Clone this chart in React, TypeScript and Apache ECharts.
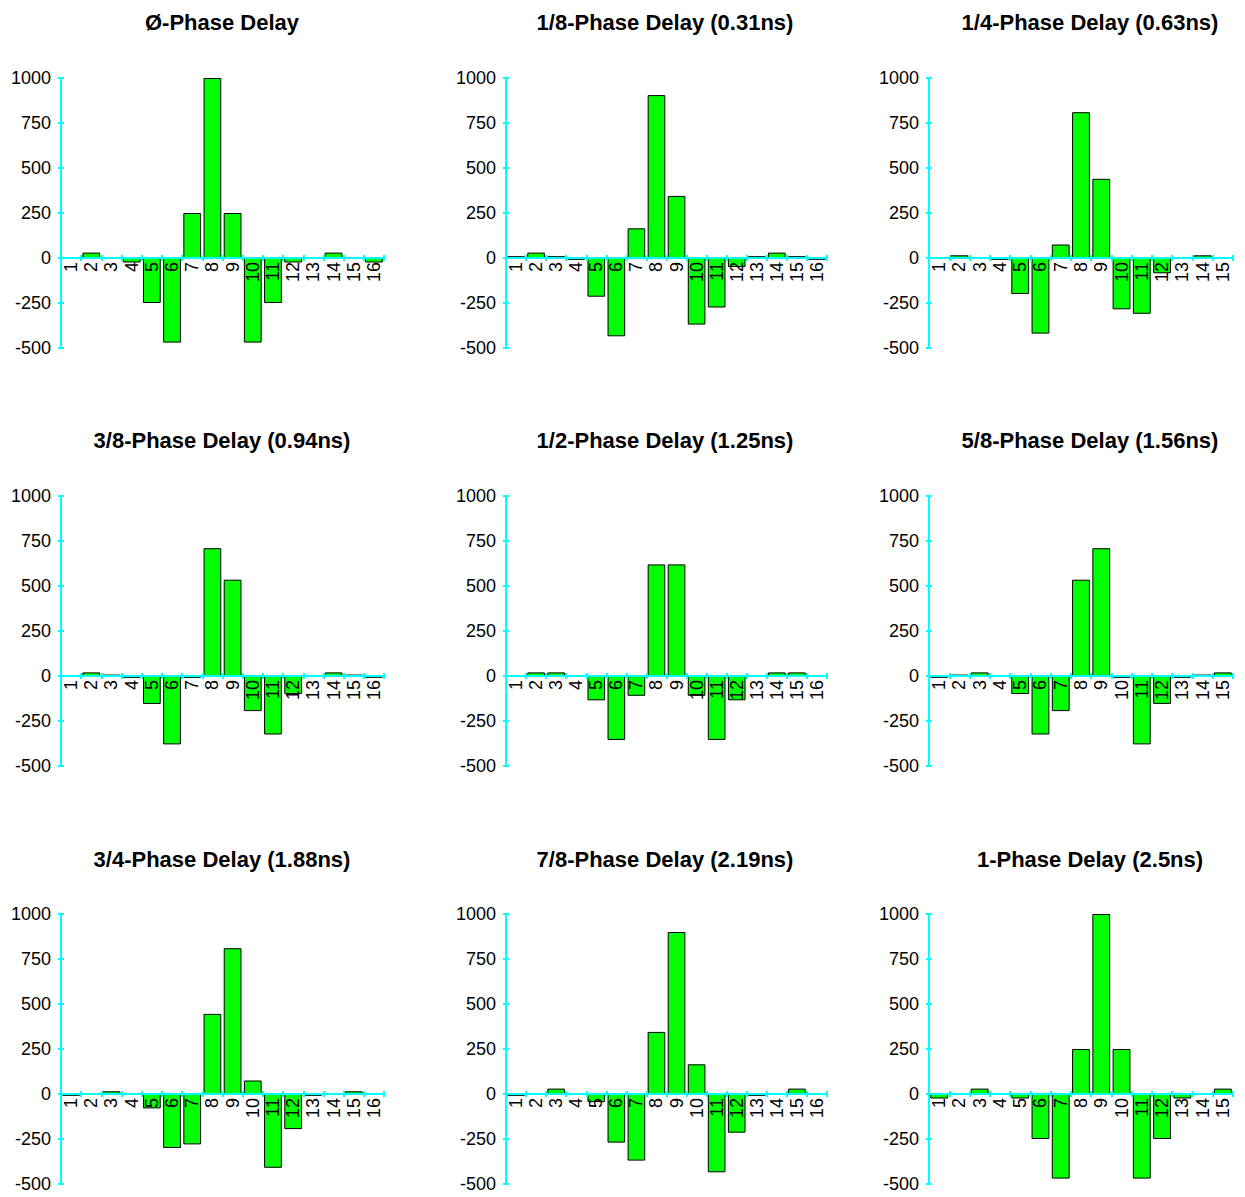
import React, { useEffect, useRef } from "react";
import * as echarts from "echarts";

const CATS_16 = ["1", "2", "3", "4", "5", "6", "7", "8", "9", "10", "11", "12", "13", "14", "15", "16"];
const CATS_15 = ["1", "2", "3", "4", "5", "6", "7", "8", "9", "10", "11", "12", "13", "14", "15"];

const Y_MIN = -500;
const Y_MAX = 1000;
const Y_STEP = 250;

const TITLES = [
  "Ø-Phase Delay",
  "1/8-Phase Delay (0.31ns)",
  "1/4-Phase Delay (0.63ns)",
  "3/8-Phase Delay (0.94ns)",
  "1/2-Phase Delay (1.25ns)",
  "5/8-Phase Delay (1.56ns)",
  "3/4-Phase Delay (1.88ns)",
  "7/8-Phase Delay (2.19ns)",
  "1-Phase Delay (2.5ns)",
];

const PHASE_0 = [0, 30, 0, -25, -250, -470, 250, 1000, 250, -470, -250, -25, 0, 30, 0, -25];
const PHASE_1_8 = [10, 30, 10, -10, -215, -435, 165, 905, 345, -370, -275, -50, 10, 30, 10, -10];
const PHASE_1_4 = [5, 15, 5, -10, -200, -420, 75, 810, 440, -285, -310, -85, 5, 15, 5];
const PHASE_3_8 = [0, 20, 8, -10, -155, -380, -10, 710, 535, -195, -325, -100, 0, 20, 8, -10];
const PHASE_1_2 = [0, 20, 20, 0, -135, -355, -110, 620, 620, -110, -355, -135, 0, 20, 20, 0];
const PHASE_5_8 = [-10, 8, 20, 0, -100, -325, -195, 535, 710, -10, -380, -155, -10, 8, 20];
const PHASE_3_4 = [-10, 5, 15, 5, -80, -300, -280, 445, 810, 75, -410, -195, -10, 5, 15, 5];
const PHASE_7_8 = [-10, 5, 30, 5, -45, -270, -370, 345, 900, 165, -435, -215, -10, 5, 30, 5];
const PHASE_1 = [-25, 0, 30, 0, -25, -250, -470, 250, 1000, 250, -470, -250, -25, 0, 30];

const SERIES = [PHASE_0, PHASE_1_8, PHASE_1_4, PHASE_3_8, PHASE_1_2, PHASE_5_8, PHASE_3_4, PHASE_7_8, PHASE_1];
const CATS = [CATS_16, CATS_16, CATS_15, CATS_16, CATS_16, CATS_15, CATS_16, CATS_16, CATS_15];

const COL_LEFT = [61, 506, 929];
const COL_WIDTH = [323, 321, 304];
const COL_TITLE_X = [222, 665, 1090];
const ROW_TOP = [78, 496, 914];
const ROW_TITLE_Y = [11, 429, 848];
const GRID_H = 270;
// distance from the bottom of each grid up to the zero line
const ZERO_OFFSET = (GRID_H * (0 - Y_MIN)) / (Y_MAX - Y_MIN);

const FONT = "'Liberation Sans', Arial, sans-serif";
const CYAN = "#00FFFF";

export default function App() {
  const ref = useRef<HTMLDivElement>(null);

  useEffect(() => {
    if (!ref.current) return;
    const chart = echarts.init(ref.current, null, { renderer: "svg" });

    const grids: any[] = [];
    const xAxes: any[] = [];
    const yAxes: any[] = [];
    const xInner: any[] = [];
    const yInner: any[] = [];
    const series: any[] = [];
    const graphics: any[] = [];

    SERIES.forEach((data, i) => {
      const r = Math.floor(i / 3);
      const c = i % 3;
      grids.push({
        left: COL_LEFT[c],
        top: ROW_TOP[r],
        width: COL_WIDTH[c],
        height: GRID_H,
        containLabel: false,
        outerBoundsMode: "none",
      });
      xAxes.push({
        type: "category",
        gridIndex: i,
        data: CATS[i],
        position: "bottom",
        offset: -ZERO_OFFSET,
        z: 10,
        axisLine: { onZero: false, lineStyle: { color: CYAN, width: 2 } },
        axisTick: { show: true, length: 3, lineStyle: { color: CYAN, width: 2 } },
        axisLabel: {
          interval: 0,
          rotate: 90,
          margin: 4,
          fontSize: 18,
          color: "#000",
          fontFamily: FONT,
        },
        splitLine: { show: false },
      });
      // second pass of ticks on the inner side so that the ticks cross the axis line
      xInner.push({
        type: "category",
        gridIndex: i,
        data: CATS[i],
        position: "bottom",
        offset: -ZERO_OFFSET,
        z: 10,
        axisLine: { show: false, onZero: false },
        axisTick: { show: true, inside: true, length: 3, lineStyle: { color: CYAN, width: 2 } },
        axisLabel: { show: false },
        splitLine: { show: false },
      });
      yAxes.push({
        type: "value",
        gridIndex: i,
        min: Y_MIN,
        max: Y_MAX,
        interval: Y_STEP,
        axisLine: { show: true, lineStyle: { color: CYAN, width: 2 } },
        axisTick: { show: true, length: 3, lineStyle: { color: CYAN, width: 2 } },
        axisLabel: {
          margin: 10,
          fontSize: 18,
          color: "#000",
          fontFamily: FONT,
          formatter: (v: number) => String(v),
        },
        splitLine: { show: false },
      });
      yInner.push({
        type: "value",
        gridIndex: i,
        position: "left",
        min: Y_MIN,
        max: Y_MAX,
        interval: Y_STEP,
        axisLine: { show: false },
        axisTick: { show: true, inside: true, length: 3, lineStyle: { color: CYAN, width: 2 } },
        axisLabel: { show: false },
        splitLine: { show: false },
      });
      series.push({
        type: "bar",
        xAxisIndex: i,
        yAxisIndex: i,
        data,
        barCategoryGap: "12%",
        itemStyle: { color: "#00FF00", borderColor: "#000", borderWidth: 1 },
      });
      graphics.push({
        type: "text",
        x: COL_TITLE_X[c],
        y: ROW_TITLE_Y[r],
        style: {
          text: TITLES[i],
          align: "center",
          verticalAlign: "top",
          font: `bold 22px ${FONT}`,
          fill: "#000",
        },
      });
    });

    chart.setOption({
      animation: false,
      backgroundColor: "#fff",
      grid: grids,
      xAxis: [...xAxes, ...xInner],
      yAxis: [...yAxes, ...yInner],
      series,
      graphic: graphics,
    });

    return () => chart.dispose();
  }, []);

  return (
    <div
      ref={ref}
      style={{ position: "absolute", left: 0, top: 0, width: 1245, height: 1197 }}
    />
  );
}
